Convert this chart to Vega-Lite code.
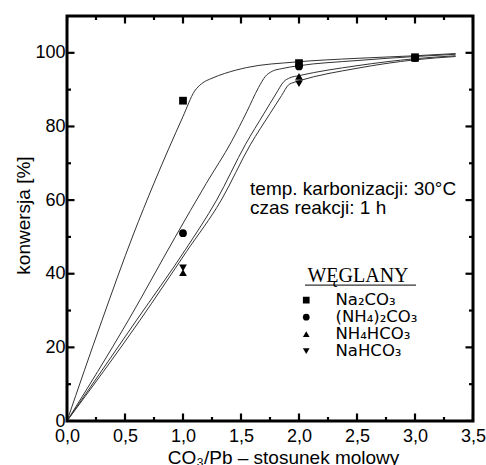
{
  "$schema": "https://vega.github.io/schema/vega-lite/v6.json",
  "width": 406,
  "height": 405,
  "autosize": {"type": "none"},
  "padding": {"left": 67, "top": 16, "right": 13, "bottom": 44},
  "background": "white",
  "config": {
    "view": {"stroke": "black", "strokeWidth": 3},
    "font": "Liberation Sans",
    "axis": {"grid": false, "domain": false, "ticks": false, "labelColor": "black", "titleColor": "black", "labelFlush": false, "labelOverlap": false, "labelFont": "Liberation Sans", "titleFont": "Liberation Sans", "titleFontWeight": "normal"}
  },
  "datasets": {
    "curves": [
      {"s": "Na₂CO₃", "x": 0, "y": 0}, {"s": "Na₂CO₃", "x": 0.3, "y": 27.2}, {"s": "Na₂CO₃", "x": 0.57, "y": 50.5}, {"s": "Na₂CO₃", "x": 0.75, "y": 64.6}, {"s": "Na₂CO₃", "x": 1.0, "y": 82.7}, {"s": "Na₂CO₃", "x": 1.1, "y": 89.6}, {"s": "Na₂CO₃", "x": 1.16, "y": 91.6}, {"s": "Na₂CO₃", "x": 1.25, "y": 93.1}, {"s": "Na₂CO₃", "x": 1.36, "y": 94.4}, {"s": "Na₂CO₃", "x": 1.55, "y": 96.0}, {"s": "Na₂CO₃", "x": 1.97, "y": 97.5}, {"s": "Na₂CO₃", "x": 2.5, "y": 98.5}, {"s": "Na₂CO₃", "x": 3.0, "y": 99.2}, {"s": "Na₂CO₃", "x": 3.35, "y": 99.8},
      {"s": "(NH₄)₂CO₃", "x": 0, "y": 0}, {"s": "(NH₄)₂CO₃", "x": 0.53, "y": 27.4}, {"s": "(NH₄)₂CO₃", "x": 0.93, "y": 49.8}, {"s": "(NH₄)₂CO₃", "x": 1.2, "y": 64.5}, {"s": "(NH₄)₂CO₃", "x": 1.42, "y": 76}, {"s": "(NH₄)₂CO₃", "x": 1.55, "y": 84}, {"s": "(NH₄)₂CO₃", "x": 1.65, "y": 90.5}, {"s": "(NH₄)₂CO₃", "x": 1.71, "y": 93.6}, {"s": "(NH₄)₂CO₃", "x": 1.77, "y": 95}, {"s": "(NH₄)₂CO₃", "x": 1.85, "y": 95.7}, {"s": "(NH₄)₂CO₃", "x": 2.0, "y": 96.5}, {"s": "(NH₄)₂CO₃", "x": 2.5, "y": 97.9}, {"s": "(NH₄)₂CO₃", "x": 3.0, "y": 99.0}, {"s": "(NH₄)₂CO₃", "x": 3.35, "y": 99.6},
      {"s": "NH₄HCO₃", "x": 0, "y": 0}, {"s": "NH₄HCO₃", "x": 0.6, "y": 27.4}, {"s": "NH₄HCO₃", "x": 1.02, "y": 46.5}, {"s": "NH₄HCO₃", "x": 1.29, "y": 60}, {"s": "NH₄HCO₃", "x": 1.54, "y": 75.2}, {"s": "NH₄HCO₃", "x": 1.7, "y": 83.6}, {"s": "NH₄HCO₃", "x": 1.8, "y": 88.8}, {"s": "NH₄HCO₃", "x": 1.87, "y": 92.2}, {"s": "NH₄HCO₃", "x": 1.92, "y": 93.2}, {"s": "NH₄HCO₃", "x": 2.0, "y": 93.8}, {"s": "NH₄HCO₃", "x": 2.5, "y": 96.5}, {"s": "NH₄HCO₃", "x": 3.0, "y": 98.4}, {"s": "NH₄HCO₃", "x": 3.35, "y": 99.2},
      {"s": "NaHCO₃", "x": 0, "y": 0}, {"s": "NaHCO₃", "x": 0.63, "y": 27.4}, {"s": "NaHCO₃", "x": 1.03, "y": 46}, {"s": "NaHCO₃", "x": 1.33, "y": 60}, {"s": "NaHCO₃", "x": 1.58, "y": 75}, {"s": "NaHCO₃", "x": 1.75, "y": 83.5}, {"s": "NaHCO₃", "x": 1.85, "y": 88.4}, {"s": "NaHCO₃", "x": 1.91, "y": 91.3}, {"s": "NaHCO₃", "x": 1.96, "y": 92}, {"s": "NaHCO₃", "x": 2.0, "y": 92.4}, {"s": "NaHCO₃", "x": 2.5, "y": 95.8}, {"s": "NaHCO₃", "x": 3.0, "y": 98.1}, {"s": "NaHCO₃", "x": 3.35, "y": 99.0}
    ],
    "pts": [
      {"s": "Na₂CO₃", "x": 1, "y": 87}, {"s": "Na₂CO₃", "x": 2, "y": 97.2}, {"s": "Na₂CO₃", "x": 3, "y": 98.8},
      {"s": "(NH₄)₂CO₃", "x": 1, "y": 51}, {"s": "(NH₄)₂CO₃", "x": 2, "y": 96.3}, {"s": "(NH₄)₂CO₃", "x": 3, "y": 98.6},
      {"s": "NH₄HCO₃", "x": 1, "y": 40.3}, {"s": "NH₄HCO₃", "x": 2, "y": 93.6}, {"s": "NH₄HCO₃", "x": 3, "y": 98.5},
      {"s": "NaHCO₃", "x": 1, "y": 41.6}, {"s": "NaHCO₃", "x": 2, "y": 91.6}, {"s": "NaHCO₃", "x": 3, "y": 98.5}
    ],
    "xt": [
      {"v": 0, "k": "major"}, {"v": 0.25, "k": "minor"}, {"v": 0.5, "k": "major"}, {"v": 0.75, "k": "minor"}, {"v": 1, "k": "major"}, {"v": 1.25, "k": "minor"}, {"v": 1.5, "k": "major"}, {"v": 1.75, "k": "minor"}, {"v": 2, "k": "major"}, {"v": 2.25, "k": "minor"}, {"v": 2.5, "k": "major"}, {"v": 2.75, "k": "minor"}, {"v": 3, "k": "major"}, {"v": 3.25, "k": "minor"}, {"v": 3.5, "k": "major"}
    ],
    "yt": [
      {"v": 0, "k": "major"}, {"v": 10, "k": "minor"}, {"v": 20, "k": "major"}, {"v": 30, "k": "minor"}, {"v": 40, "k": "major"}, {"v": 50, "k": "minor"}, {"v": 60, "k": "major"}, {"v": 70, "k": "minor"}, {"v": 80, "k": "major"}, {"v": 90, "k": "minor"}, {"v": 100, "k": "major"}
    ],
    "note": [{"t": "temp. karbonizacji: 30°C\nczas reakcji: 1 h"}],
    "underline": [{"k": 1}]
  },
  "resolve": {"axis": {"x": "independent", "y": "independent"}},
  "layer": [
    {
      "data": {"name": "curves"},
      "mark": {"type": "line", "interpolate": "monotone", "stroke": "#333333", "strokeWidth": 1},
      "encoding": {
        "x": {"field": "x", "type": "quantitative", "scale": {"domain": [0, 3.5], "nice": false, "zero": false},
          "axis": {"orient": "bottom", "values": [0, 0.5, 1, 1.5, 2, 2.5, 3, 3.5], "labelPadding": 6, "labelFontSize": 18,
            "labelExpr": "replace(format(datum.value, '.1f'), '.', ',')",
            "title": "CO₃/Pb – stosunek molowy", "titleFontSize": 19, "titleX": 216, "titleY": 42, "titleBaseline": "alphabetic"}},
        "y": {"field": "y", "type": "quantitative", "scale": {"domain": [0, 110], "nice": false},
          "axis": {"orient": "left", "values": [0, 20, 40, 60, 80, 100], "labelPadding": 2, "labelFontSize": 18,
            "title": "konwersja [%]", "titleFontSize": 19, "titleAngle": 270, "titleBaseline": "bottom", "titleX": -34, "titleY": 199}},
        "detail": {"field": "s", "type": "nominal"}
      }
    },
    {
      "data": {"name": "xt"},
      "mark": {"type": "tick", "orient": "vertical", "thickness": 2.2, "clip": true, "color": "black", "opacity": 1},
      "encoding": {
        "x": {"field": "v", "type": "quantitative", "axis": null},
        "y": {"datum": 0, "type": "quantitative", "axis": null},
        "size": {"field": "k", "type": "ordinal", "scale": {"domain": ["major", "minor"], "range": [15, 8]}, "legend": null}
      }
    },
    {
      "data": {"name": "xt"},
      "mark": {"type": "tick", "orient": "vertical", "thickness": 2.2, "clip": true, "color": "black", "opacity": 1},
      "encoding": {
        "x": {"field": "v", "type": "quantitative", "axis": null},
        "y": {"datum": 110, "type": "quantitative", "axis": null},
        "size": {"field": "k", "type": "ordinal", "scale": {"domain": ["major", "minor"], "range": [15, 8]}, "legend": null}
      }
    },
    {
      "data": {"name": "yt"},
      "mark": {"type": "tick", "orient": "horizontal", "thickness": 2.2, "clip": true, "color": "black", "opacity": 1},
      "encoding": {
        "y": {"field": "v", "type": "quantitative", "axis": null},
        "x": {"datum": 0, "type": "quantitative", "axis": null},
        "size": {"field": "k", "type": "ordinal", "scale": {"domain": ["major", "minor"], "range": [15, 8]}, "legend": null}
      }
    },
    {
      "data": {"name": "yt"},
      "mark": {"type": "tick", "orient": "horizontal", "thickness": 2.2, "clip": true, "color": "black", "opacity": 1},
      "encoding": {
        "y": {"field": "v", "type": "quantitative", "axis": null},
        "x": {"datum": 3.5, "type": "quantitative", "axis": null},
        "size": {"field": "k", "type": "ordinal", "scale": {"domain": ["major", "minor"], "range": [15, 8]}, "legend": null}
      }
    },
    {
      "data": {"name": "pts"},
      "mark": {"type": "point", "filled": true, "color": "black", "opacity": 1, "size": 60},
      "encoding": {
        "x": {"field": "x", "type": "quantitative", "axis": null},
        "y": {"field": "y", "type": "quantitative", "axis": null},
        "shape": {"field": "s", "type": "nominal",
          "scale": {"domain": ["Na₂CO₃", "(NH₄)₂CO₃", "NH₄HCO₃", "NaHCO₃"], "range": ["square", "circle", "triangle-up", "triangle-down"]},
          "legend": {"orient": "none", "legendX": 231, "legendY": 250, "padding": 0, "title": "WĘGLANY", "titleFont": "Liberation Serif", "titleFontSize": 20, "titleFontWeight": "normal", "titleColor": "black", "titleAnchor": "middle", "titlePadding": 7,
            "labelFont": "DejaVu Sans", "labelFontSize": 16.5, "labelColor": "black", "labelOffset": 21, "rowPadding": 0, "clipHeight": 14.3, "symbolSize": 45, "symbolStrokeWidth": 0}}
      }
    },
    {
      "data": {"name": "note"},
      "mark": {"type": "text", "align": "left", "baseline": "middle", "fontSize": 19, "lineBreak": "\n", "lineHeight": 18.5, "color": "black", "font": "Liberation Sans"},
      "encoding": {
        "x": {"datum": 1.578, "type": "quantitative", "axis": null},
        "y": {"datum": 63.0, "type": "quantitative", "axis": null},
        "text": {"field": "t"}
      }
    },
    {
      "data": {"name": "underline"},
      "mark": {"type": "bar", "color": "#333333"},
      "encoding": {
        "x": {"datum": 2.052, "type": "quantitative", "axis": null},
        "x2": {"datum": 3.009},
        "y": {"datum": 36.75, "type": "quantitative", "axis": null},
        "y2": {"datum": 37.1}
      }
    }
  ]
}
